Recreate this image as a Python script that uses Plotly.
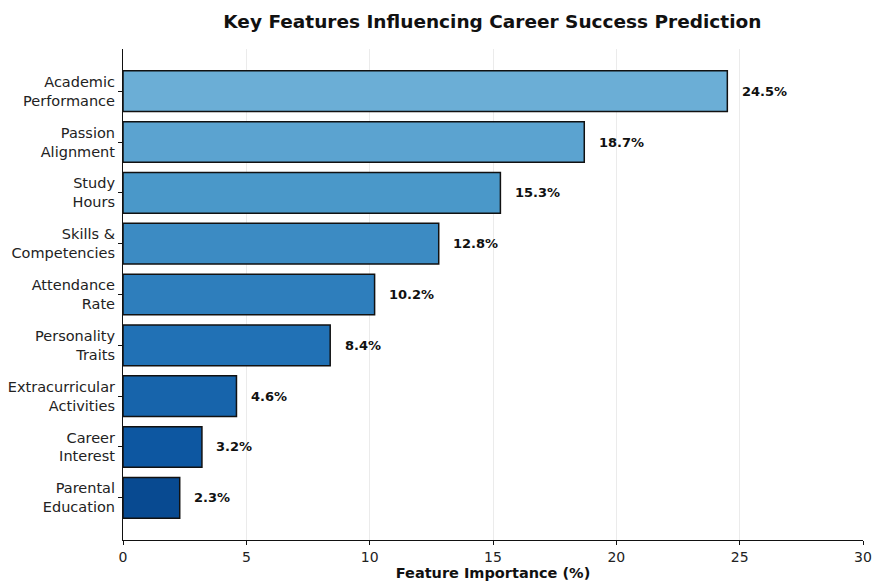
import plotly.graph_objects as go

features = ["Academic<br>Performance", "Passion<br>Alignment", "Study<br>Hours",
            "Skills &<br>Competencies", "Attendance<br>Rate", "Personality<br>Traits",
            "Extracurricular<br>Activities", "Career<br>Interest", "Parental<br>Education"]
importance = [24.5, 18.7, 15.3, 12.8, 10.2, 8.4, 4.6, 3.2, 2.3]
colors = ["#6baed6", "#5ba3d0", "#4a98c9", "#3c8bc3", "#2e7ebc",
          "#2171b5", "#1764ab", "#0d57a1", "#084a91"]
x_ticks = [0, 5, 10, 15, 20, 25, 30]

font = "DejaVu Sans, Verdana, sans-serif"

fig = go.Figure()
fig.add_trace(go.Bar(
    y=features, x=importance, orientation="h",
    marker=dict(color=colors, line=dict(color="#111111", width=1.5)),
    width=0.8,
    textposition="none",
    hoverinfo="skip",
))
for f, v in zip(features, importance):
    fig.add_annotation(x=v + 0.5, y=f, text=f"<b>{v}%</b>", showarrow=False,
                       xanchor="left", yanchor="middle",
                       font=dict(family=font, size=13, color="#111111"))

fig.update_layout(
    width=873, height=582,
    margin=dict(l=123, r=10, t=49, b=42),
    paper_bgcolor="white", plot_bgcolor="white",
    showlegend=False,
    font=dict(family=font, size=14, color="#222222"),
    title=dict(text="<b>Key Features Influencing Career Success Prediction</b>",
               x=0.564, xanchor="center", y=0.974, yanchor="top",
               font=dict(family=font, size=18.5, color="#111111")),
    xaxis=dict(range=[0, 30], tickvals=x_ticks, ticktext=[str(t) for t in x_ticks],
               showgrid=True, gridcolor="#ebebeb", gridwidth=1,
               showline=True, linecolor="#111111", linewidth=1.2,
               ticks="outside", ticklen=4, tickcolor="#111111",
               zeroline=False, automargin=False,
               tickfont=dict(family=font, size=14, color="#222222"),
               title=dict(text="<b>Feature Importance (%)</b>", standoff=2,
                          font=dict(family=font, size=14.5, color="#111111"))),
    yaxis=dict(type="category", categoryorder="array", categoryarray=features,
               range=[8.83, -0.83], automargin=False,
               showgrid=False, showline=True, linecolor="#111111", linewidth=1.2,
               ticks="outside", ticklen=4, tickcolor="#111111",
               zeroline=False,
               tickfont=dict(family=font, size=14.5, color="#222222")),
)

fig.write_html("out.html",
               config={"displayModeBar": False},
               post_script="document.body.style.margin='0';document.body.style.padding='0';")
